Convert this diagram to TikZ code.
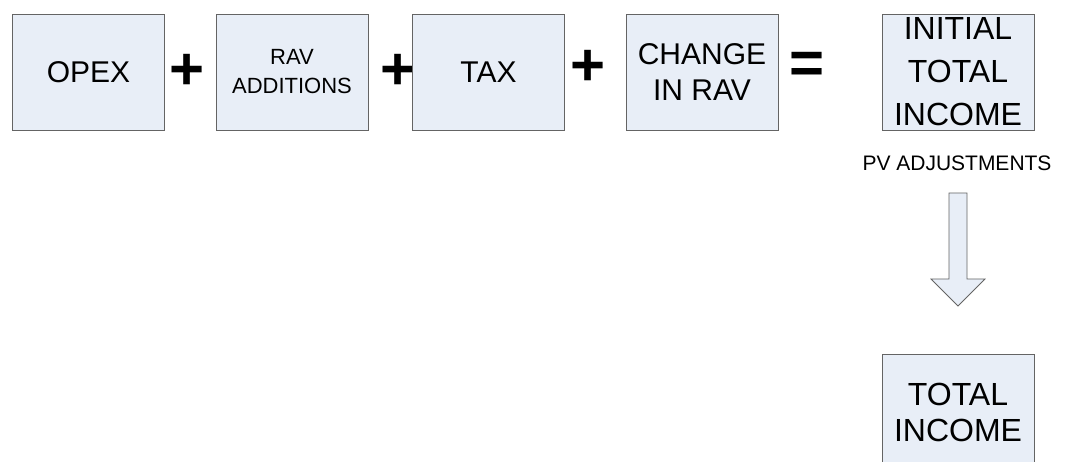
\documentclass[tikz,border=0pt]{standalone}
\usepackage{fontspec}
\setmainfont{Liberation Sans}
\definecolor{boxfill}{RGB}{232,238,247}
\definecolor{boxline}{RGB}{100,100,100}

\begin{document}
\begin{tikzpicture}[x=1pt,y=-1pt,
  blk/.style={draw=boxline,fill=boxfill,line width=0.8pt,minimum width=152pt,
    minimum height=116pt,inner sep=0pt,align=center,font=\fontsize{30}{36}\selectfont},
  opsign/.style={inner sep=0pt,font=\fontsize{60}{60}\selectfont\bfseries}]
  \useasboundingbox (0,0) rectangle (1068,462);
  % top row: the sum
  \node[blk] (opex) at (88.5,72) {OPEX};
  \node[opsign] (plusa) at (187,72) {+};
  \node[blk,font=\fontsize{22}{29}\selectfont] (ravadd) at (292,72) {RAV\\ADDITIONS};
  \node[opsign] (plusb) at (398,72) {+};
  \node[blk] (tax) at (488.5,72) {TAX};
  \node[opsign] (plusc) at (588,68) {+};
  \node[blk] (chgrav) at (702,72) {CHANGE\\IN RAV};
  \node[opsign] (eq) at (807,68) {=};
  \node[blk,font=\fontsize{32}{43}\selectfont] (initinc) at (958,72) {INITIAL\\TOTAL\\INCOME};
  % adjustment step
  \node[font=\fontsize{21}{25}\selectfont] (pvadj) at (957,163) {PV ADJUSTMENTS};
  \draw[draw=boxline,fill=boxfill,line width=0.8pt]
    (949,193) -- (967,193) -- (967,279) -- (985,279) -- (958,306)
    -- (931,279) -- (949,279) -- cycle;
  \node[blk,font=\fontsize{32}{36}\selectfont] (totinc) at (958,412) {TOTAL\\INCOME};
\end{tikzpicture}
\end{document}
